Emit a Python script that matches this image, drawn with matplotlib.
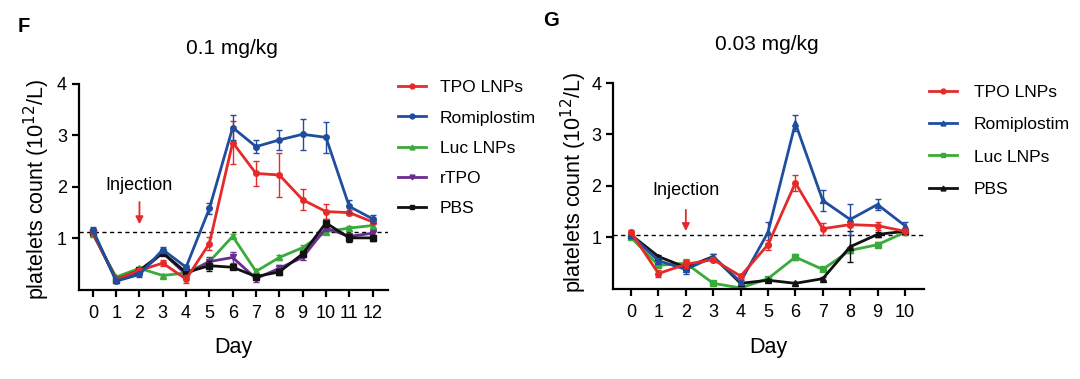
import numpy as np
import matplotlib
matplotlib.use("Agg")
import matplotlib.pyplot as plt
from matplotlib.lines import Line2D

plt.rcParams["font.family"] = ["Liberation Sans", "DejaVu Sans"]

# --- panel F: 0.1 mg/kg ---
days_f = np.arange(0, 13)
tpo_f = [1.12, 0.20, 0.38, 0.52, 0.21, 0.90, 2.86, 2.26, 2.23, 1.75, 1.52, 1.50, 1.32]
tpo_f_err = [0.05, 0.03, 0.05, 0.06, 0.08, 0.12, 0.42, 0.25, 0.43, 0.20, 0.15, 0.05, 0.05]
romi_f = [1.17, 0.17, 0.30, 0.78, 0.44, 1.58, 3.15, 2.78, 2.91, 3.02, 2.96, 1.62, 1.38]
romi_f_err = [0.06, 0.03, 0.05, 0.06, 0.05, 0.10, 0.25, 0.12, 0.20, 0.30, 0.30, 0.12, 0.08]
luc_f = [1.08, 0.25, 0.42, 0.28, 0.33, 0.55, 1.04, 0.36, 0.63, 0.82, 1.13, 1.20, 1.25]
luc_f_err = [0.03, 0.03, 0.03, 0.03, 0.03, 0.05, 0.04, 0.04, 0.04, 0.05, 0.04, 0.05, 0.05]
rtpo_f = [1.12, 0.20, 0.33, 0.72, 0.30, 0.55, 0.63, 0.22, 0.42, 0.63, 1.20, 1.04, 1.10]
rtpo_f_err = [0.03, 0.03, 0.03, 0.05, 0.05, 0.08, 0.10, 0.06, 0.06, 0.05, 0.05, 0.05, 0.05]
pbs_f = [1.12, 0.20, 0.38, 0.72, 0.34, 0.47, 0.44, 0.26, 0.35, 0.70, 1.30, 1.01, 1.01]
pbs_f_err = [0.04, 0.03, 0.04, 0.05, 0.05, 0.10, 0.03, 0.04, 0.06, 0.05, 0.08, 0.08, 0.06]
baseline_f = 1.13

# --- panel G: 0.03 mg/kg ---
days_g = np.arange(0, 11)
tpo_g = [1.10, 0.30, 0.48, 0.57, 0.25, 0.86, 2.06, 1.17, 1.25, 1.23, 1.12]
tpo_g_err = [0.04, 0.06, 0.08, 0.05, 0.05, 0.10, 0.15, 0.12, 0.05, 0.08, 0.04]
romi_g = [1.05, 0.55, 0.38, 0.62, 0.14, 1.10, 3.22, 1.72, 1.35, 1.64, 1.23]
romi_g_err = [0.04, 0.05, 0.08, 0.05, 0.04, 0.20, 0.15, 0.20, 0.30, 0.10, 0.08]
luc_g = [1.00, 0.46, 0.50, 0.11, 0.02, 0.20, 0.62, 0.38, 0.75, 0.86, 1.10]
luc_g_err = [0.03, 0.04, 0.08, 0.03, 0.03, 0.03, 0.05, 0.04, 0.05, 0.05, 0.04]
pbs_g = [1.05, 0.63, 0.42, 0.63, 0.11, 0.17, 0.11, 0.20, 0.82, 1.06, 1.12]
pbs_g_err = [0.03, 0.03, 0.03, 0.04, 0.03, 0.03, 0.03, 0.03, 0.30, 0.05, 0.04]
baseline_g = 1.04

RED = "#E52A2A"
BLUE = "#1F4E9E"
GREEN = "#3AAA3A"
PURPLE = "#6A2C8F"
BLACK = "#111111"

fig = plt.figure(figsize=(10.8, 3.79), dpi=100)
ax_f = fig.add_axes([0.073, 0.235, 0.286, 0.544])
ax_g = fig.add_axes([0.5676, 0.2375, 0.288, 0.5435])


def draw(ax, x, y, err, color, marker, z):
    ax.errorbar(x, y, yerr=err, color=color, lw=2.0, marker=marker, ms=4,
                elinewidth=1.0, capsize=2.5, capthick=1.0, zorder=z)
    return Line2D([], [], color=color, lw=2.0, marker=marker, ms=3.5)


def style(ax, xmax):
    for s in ["top", "right"]:
        ax.spines[s].set_visible(False)
    ax.spines["left"].set_linewidth(1.6)
    ax.spines["bottom"].set_linewidth(1.6)
    ax.set_ylim(0, 4)
    ax.set_yticks([1, 2, 3, 4])
    ax.set_xticks(range(0, xmax + 1))
    ax.tick_params(width=1.6, length=5, labelsize=13)
    ax.tick_params(axis="x", pad=6)


# panel F
h_luc = draw(ax_f, days_f, luc_f, luc_f_err, GREEN, "^", 2)
h_rtpo = draw(ax_f, days_f, rtpo_f, rtpo_f_err, PURPLE, "v", 3)
h_pbs = draw(ax_f, days_f, pbs_f, pbs_f_err, BLACK, "s", 4)
h_tpo = draw(ax_f, days_f, tpo_f, tpo_f_err, RED, "o", 5)
h_romi = draw(ax_f, days_f, romi_f, romi_f_err, BLUE, "o", 6)
ax_f.axhline(baseline_f, color="black", ls=(0, (3, 2.5)), lw=1.0, zorder=1)
ax_f.set_xlim(-0.6, 12.65)
style(ax_f, 12)
ax_f.text(2, 2.03, "Injection", ha="center", va="center", fontsize=13)
ax_f.annotate("", xy=(2, 1.22), xytext=(2, 1.76),
              arrowprops=dict(arrowstyle="-|>", color=RED, lw=1.3, mutation_scale=11))
fig.legend([h_tpo, h_romi, h_luc, h_rtpo, h_pbs],
           ["TPO LNPs", "Romiplostim", "Luc LNPs", "rTPO", "PBS"], loc="upper left",
           bbox_to_anchor=(0.360, 0.812), frameon=False, fontsize=12.6,
           handlelength=1.6, handletextpad=0.8, labelspacing=0.86, borderpad=0)

# panel G
h_luc = draw(ax_g, days_g, luc_g, luc_g_err, GREEN, "s", 2)
h_pbs = draw(ax_g, days_g, pbs_g, pbs_g_err, BLACK, "^", 3)
h_romi = draw(ax_g, days_g, romi_g, romi_g_err, BLUE, "^", 4)
h_tpo = draw(ax_g, days_g, tpo_g, tpo_g_err, RED, "o", 5)
ax_g.axhline(baseline_g, color="black", ls=(0, (3, 2.5)), lw=1.0, zorder=1)
ax_g.set_xlim(-0.66, 10.7)
style(ax_g, 10)
ax_g.text(2, 1.91, "Injection", ha="center", va="center", fontsize=13)
ax_g.annotate("", xy=(2, 1.07), xytext=(2, 1.59),
              arrowprops=dict(arrowstyle="-|>", color=RED, lw=1.3, mutation_scale=11))
fig.legend([h_tpo, h_romi, h_luc, h_pbs],
           ["TPO LNPs", "Romiplostim", "Luc LNPs", "PBS"], loc="upper left",
           bbox_to_anchor=(0.852, 0.80), frameon=False, fontsize=12.6,
           handlelength=1.6, handletextpad=0.97, labelspacing=0.98, borderpad=0)

# labels
ylab = "platelets count (10$^{12}$/L)"
fig.text(37 / 1080, 1 - 189 / 379, ylab, rotation=90, ha="center", va="center", fontsize=15.5)
fig.text(574 / 1080, 1 - 182 / 379, ylab, rotation=90, ha="center", va="center", fontsize=15.5)
fig.text(233 / 1080, 1 - 348 / 379, "Day", ha="center", va="center", fontsize=15.5)
fig.text(768 / 1080, 1 - 348 / 379, "Day", ha="center", va="center", fontsize=15.5)
fig.text(232 / 1080, 1 - 48 / 379, "0.1 mg/kg", ha="center", va="center", fontsize=15)
fig.text(767 / 1080, 1 - 45 / 379, "0.03 mg/kg", ha="center", va="center", fontsize=15)
fig.text(18 / 1080, 1 - 27 / 379, "F", ha="left", va="center", fontsize=14.5, fontweight="bold")
fig.text(543 / 1080, 1 - 21 / 379, "G", ha="left", va="center", fontsize=14.5, fontweight="bold")

fig.savefig("out.png", dpi=100, facecolor="white")
